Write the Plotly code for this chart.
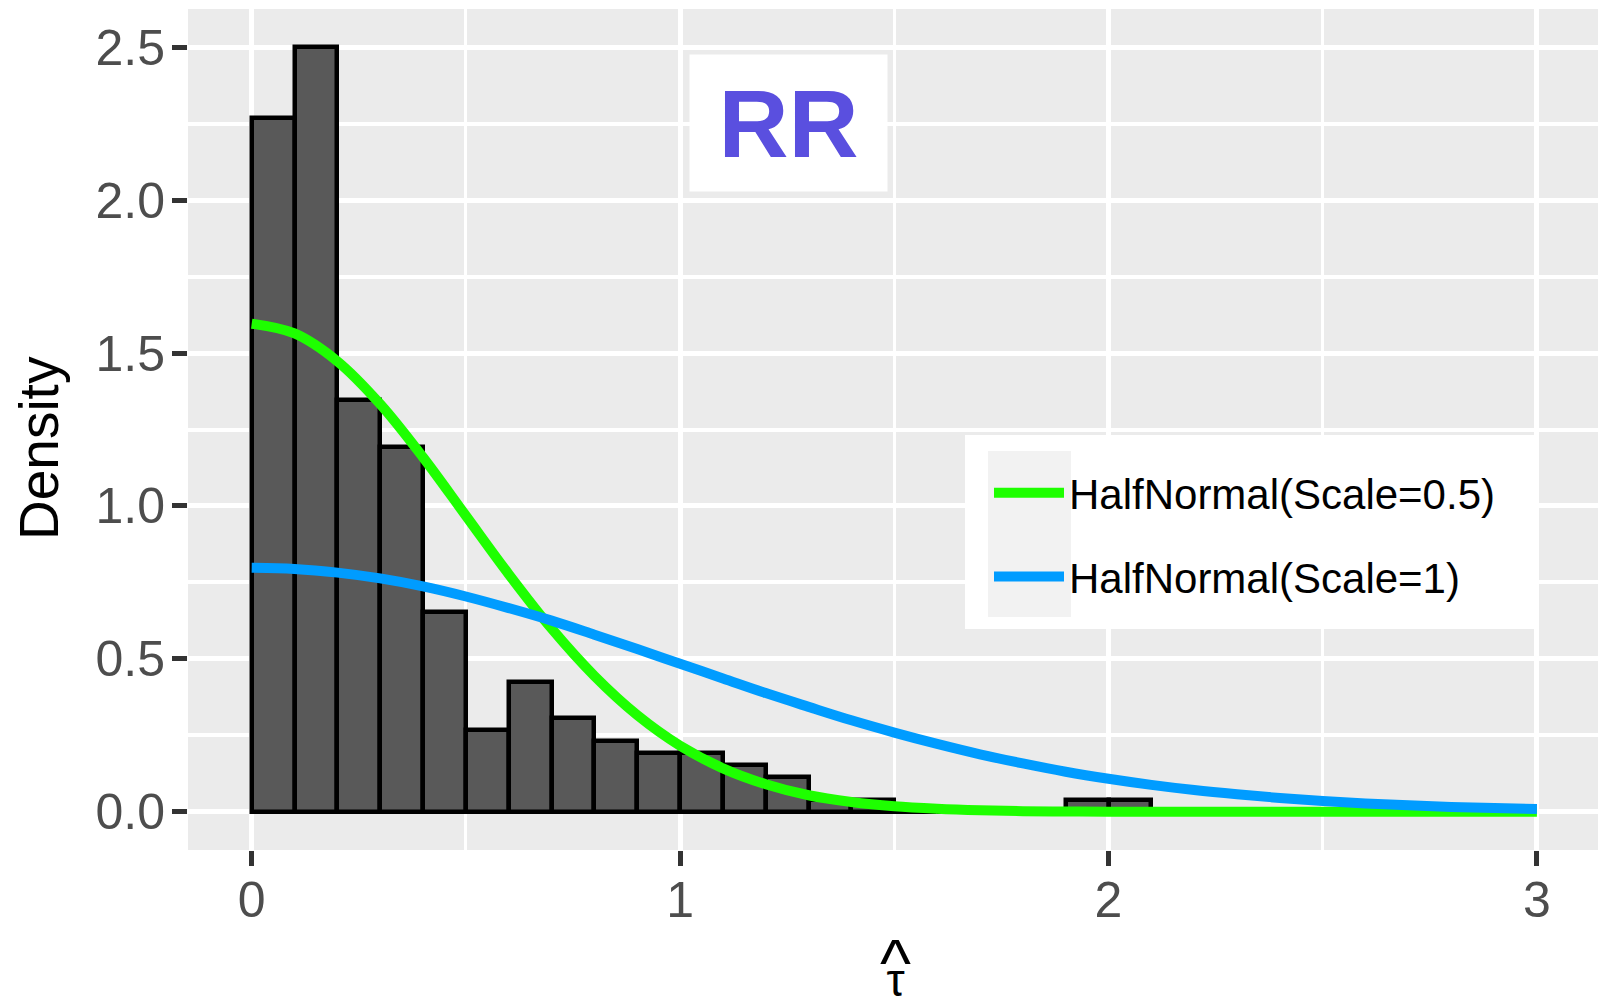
import plotly.graph_objects as go

# ---- data ----
bin_left = [0.0, 0.1, 0.2, 0.3, 0.4, 0.5, 0.6, 0.7, 0.8, 0.9, 1.0,
            1.1, 1.2, 1.3, 1.4, 1.5, 1.6, 1.7, 1.8, 1.9, 2.0]
density = [2.269, 2.500, 1.346, 1.192, 0.654, 0.269, 0.423, 0.308, 0.231, 0.192, 0.192,
           0.154, 0.115, 0.038, 0.038, 0.0, 0.0, 0.0, 0.0, 0.038, 0.038]
bin_width = 0.1

curve_x = [0.0, 0.1, 0.2, 0.3, 0.4, 0.5, 0.6, 0.7, 0.8, 0.9, 1.0,
           1.1, 1.2, 1.3, 1.4, 1.5, 1.6, 1.7, 1.8, 1.9, 2.0,
           2.1, 2.2, 2.3, 2.4, 2.5, 2.6, 2.7, 2.8, 2.9, 3.0]
hn_half = [1.596, 1.564, 1.473, 1.333, 1.159, 0.968, 0.777, 0.599, 0.444, 0.316, 0.216,
           0.142, 0.090, 0.054, 0.032, 0.018, 0.010, 0.005, 0.002, 0.001, 0.0,
           0.0, 0.0, 0.0, 0.0, 0.0, 0.0, 0.0, 0.0, 0.0, 0.0]
hn_one = [0.798, 0.794, 0.782, 0.763, 0.737, 0.704, 0.666, 0.625, 0.579, 0.532, 0.484,
          0.436, 0.388, 0.343, 0.299, 0.259, 0.222, 0.188, 0.158, 0.131, 0.108,
          0.088, 0.071, 0.057, 0.045, 0.035, 0.027, 0.021, 0.016, 0.012, 0.009]

series_names = ["HalfNormal(Scale=0.5)", "HalfNormal(Scale=1)"]
x_ticks = [0, 1, 2, 3]
y_ticks = [0.0, 0.5, 1.0, 1.5, 2.0, 2.5]

FONT = "Liberation Sans"
W, H = 1598, 997
ML, MR, MT, MB = 188, 0, 9, 147

def px(page_x):
    return (page_x - ML) / (W - ML - MR)

def py(page_y):
    return (H - MB - page_y) / (H - MT - MB)

fig = go.Figure()

fig.add_trace(go.Bar(
    x=[b + bin_width / 2 for b in bin_left], y=density, width=bin_width,
    marker=dict(color="#595959", line=dict(color="black", width=4.5)),
    showlegend=False, hoverinfo="skip"))

fig.add_trace(go.Scatter(
    x=curve_x, y=hn_half, mode="lines", name=series_names[0], legendgroup="a",
    line=dict(color="#1EFF00", width=10, shape="spline")))
fig.add_trace(go.Scatter(
    x=curve_x, y=hn_one, mode="lines", name=series_names[1], legendgroup="b",
    line=dict(color="#009CFF", width=10, shape="spline")))

axis_common = dict(
    showline=False, zeroline=False, ticks="outside", ticklen=15, tickwidth=4.5,
    tickcolor="#333333", gridcolor="white", gridwidth=5,
    tickfont=dict(family=FONT, size=50, color="#4D4D4D"))

fig.update_xaxes(range=[-0.1487, 3.1426], tickvals=x_ticks, ticktext=[str(v) for v in x_ticks],
                 ticklabelstandoff=-9,
                 minor=dict(dtick=0.5, tick0=0, showgrid=True, gridcolor="white", gridwidth=2.5, ticklen=0),
                 **axis_common)
fig.update_yaxes(range=[-0.125, 2.625], tickvals=y_ticks, ticktext=[f"{v:.1f}" for v in y_ticks],
                 ticklabelstandoff=-3,
                 minor=dict(dtick=0.25, tick0=0, showgrid=True, gridcolor="white", gridwidth=4, ticklen=0),
                 **axis_common)

shapes = [
    dict(type="rect", xref="paper", yref="paper", x0=px(965), x1=px(1539), y0=py(629), y1=py(435),
         fillcolor="white", line=dict(width=0), layer="above"),
    dict(type="rect", xref="paper", yref="paper", x0=px(988), x1=px(1071), y0=py(617), y1=py(451),
         fillcolor="#F2F2F2", line=dict(width=0), layer="above"),
]

annotations = [
    dict(x=1.253, y=2.252, xref="x", yref="y", text="<b>RR</b>", showarrow=False,
         xanchor="center", yanchor="middle",
         font=dict(family=FONT, size=97, color="#5A4FDF"), bgcolor="white",
         width=197, height=136, borderpad=0, align="center", valign="middle"),
    dict(x=px(39), y=py(448), xref="paper", yref="paper", text="Density", textangle=-90,
         xanchor="center", yanchor="middle",
         showarrow=False, font=dict(family=FONT, size=55, color="black")),
    dict(x=px(895), y=py(966), xref="paper", yref="paper",
         text="<span style='font-size:66px'>^</span><br><span style='font-size:46px'>τ</span>",
         showarrow=False, xanchor="center", yanchor="middle",
         font=dict(family=FONT, size=8, color="black")),
]

fig.update_layout(
    width=W, height=H, margin=dict(l=ML, r=MR, t=MT, b=MB),
    paper_bgcolor="white", plot_bgcolor="#EBEBEB",
    bargap=0, shapes=shapes, annotations=annotations,
    legend=dict(x=px(989), y=py(459), xanchor="left", yanchor="top",
                bgcolor="rgba(0,0,0,0)", font=dict(family=FONT, size=42, color="black"),
                itemwidth=70, tracegroupgap=26, traceorder="grouped"),
    font=dict(family=FONT),
)

fig.write_html(
    "out.html",
    config={"displayModeBar": False},
    post_script="document.documentElement.style.overflow='hidden';"
                "document.body.style.margin='0';document.body.style.overflow='hidden';")
